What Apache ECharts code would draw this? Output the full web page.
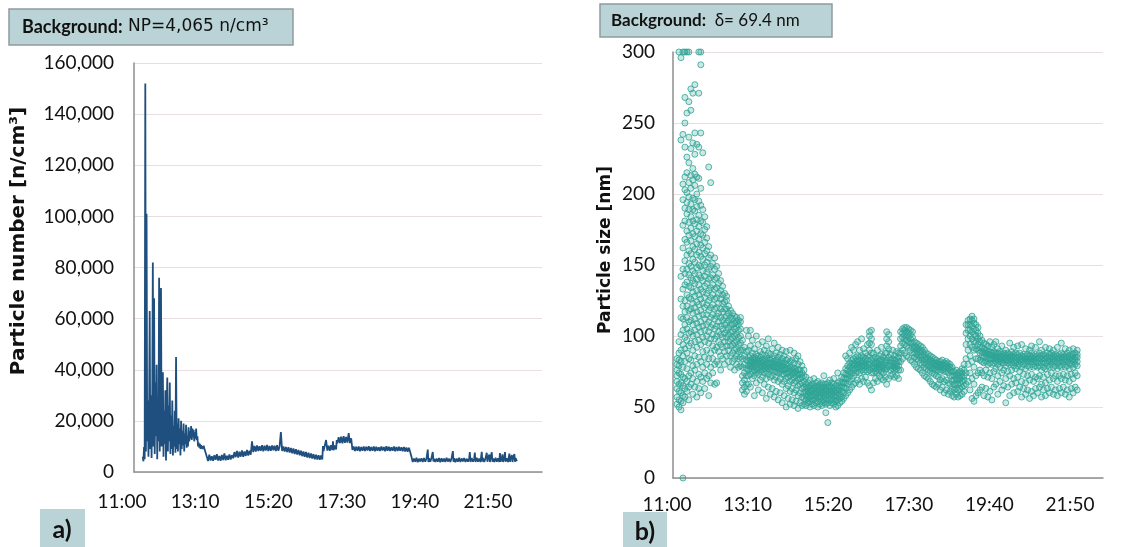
<!DOCTYPE html>
<html>
<head>
<meta charset="utf-8">
<script src="https://cdn.jsdelivr.net/npm/echarts@6/dist/echarts.min.js"></script>
<style>
  html, body { margin: 0; padding: 0; background: #fff; }
  #chart { width: 1138px; height: 547px; }
</style>
</head>
<body>
<div id="chart"></div>
<script>
// time is in minutes after midnight
var timeTicks = [660, 790, 920, 1050, 1180, 1310];
var numberTicks = [0, 20000, 40000, 60000, 80000, 100000, 120000, 140000, 160000];
var sizeTicks = [0, 50, 100, 150, 200, 250, 300];

// a) particle number [n/cm3] : [time, value]
var particleNumber = [
  [674, 6000], [675, 4200], [676, 9800], [677, 5000], [678, 152000], [679, 8000], [680, 101000],
  [681, 12000], [682, 28000], [683, 6000], [684, 22000], [685, 63000], [686, 9000], [687, 30000],
  [688, 5500], [689, 25000], [690, 82000], [691, 10000], [692, 68000], [693, 7000], [694, 35000],
  [695, 14000], [696, 42000], [697, 5000], [698, 26000], [699, 12000], [700, 76000], [701, 8000],
  [702, 31000], [703, 72000], [704, 10000], [705, 28000], [706, 39000], [707, 6000], [708, 24000],
  [709, 11000], [710, 32000], [711, 4500], [712, 21000], [713, 37000], [714, 8000], [715, 26000],
  [716, 12000], [717, 35000], [718, 7000], [719, 22000], [720, 9000], [721, 28000], [722, 6500],
  [723, 18000], [724, 10000], [725, 24000], [726, 7500], [727, 45000], [728, 9000], [729, 19000],
  [730, 8000], [731, 21000], [732, 11000], [733, 17000], [734, 6500], [735, 20000], [736, 9000],
  [737, 16000], [738, 10500], [739, 19000], [740, 8000], [741, 15000], [742, 11000], [743, 18500],
  [744, 9500], [745, 14000], [746, 10000], [747, 17500], [748, 12000], [749, 16000], [750, 13000],
  [751, 18000], [752, 12500], [753, 17000], [754, 13500], [755, 16500], [756, 12000], [757, 15500],
  [758, 13000], [759, 17000], [760, 12500], [761, 14000], [762, 10000], [763, 11500], [764, 9500],
  [765, 11000], [766, 9000], [767, 10500], [768, 9200], [769, 10000], [770, 9000], [771, 10300],
  [772, 9300], [773, 9800], [774, 9400], [775, 9600],
  [776, 6000], [778, 4300], [780, 6800], [782, 4500], [784, 6200], [786, 4400], [788, 6600],
  [790, 4800], [792, 7000], [794, 4500], [796, 6300], [798, 4400], [800, 6700], [802, 4700],
  [804, 7300], [806, 4600], [808, 6400], [810, 4800], [812, 6900], [814, 4900], [816, 6600],
  [818, 5400], [820, 7800], [822, 5800], [824, 8200], [826, 5600], [828, 7900], [830, 6000],
  [832, 8400], [834, 5900], [836, 8000], [838, 6300], [840, 8600], [842, 6400], [844, 8300],
  [846, 6800], [848, 12000], [850, 7800], [852, 10200], [854, 8000], [856, 10400], [858, 8200],
  [860, 10100], [862, 8300], [864, 10500], [866, 8100], [868, 10300], [870, 8400], [872, 10600],
  [874, 8200], [876, 10200], [878, 8300], [880, 10400], [882, 8500], [884, 10300], [886, 8200],
  [888, 10500], [890, 8300], [892, 10100], [894, 15600], [896, 8200], [898, 10000], [900, 8000],
  [902, 9800], [904, 7800], [906, 9700], [908, 7600], [910, 9400], [912, 7300], [914, 9200],
  [916, 7000], [918, 8900], [920, 6800], [922, 8600], [924, 6500], [926, 8300], [928, 6200],
  [930, 8000], [932, 6000], [934, 7800], [936, 5700], [938, 7500], [940, 5500], [942, 7200],
  [944, 5300], [946, 7000], [948, 5000], [950, 6800], [952, 4900], [954, 6600], [956, 4800],
  [958, 6500], [960, 4900], [961, 10200], [962, 8200], [964, 10400], [966, 12500], [968, 8400],
  [970, 10300], [972, 8300], [974, 10500], [976, 8600], [977, 12000], [978, 8500], [980, 10400],
  [982, 8800], [983, 12500], [984, 11200], [986, 13600], [988, 11300], [990, 13800], [992, 11200],
  [994, 14000], [996, 11400], [998, 13700], [1000, 11500], [1002, 15200], [1004, 11300], [1006, 13200],
  [1008, 8600], [1010, 10000], [1012, 8200], [1014, 9900], [1016, 8300], [1018, 10000], [1020, 8100],
  [1022, 9800], [1024, 8300], [1026, 10000], [1028, 8200], [1030, 9900], [1032, 8400], [1034, 10100],
  [1036, 8200], [1038, 9800], [1040, 8300], [1042, 10000], [1044, 8100], [1046, 9900], [1048, 8300],
  [1050, 9700], [1052, 8200], [1054, 10000], [1056, 8400], [1058, 9800], [1060, 8100], [1062, 10100],
  [1064, 8300], [1066, 9900], [1068, 8200], [1070, 9700], [1072, 8300], [1074, 10000], [1076, 8100],
  [1078, 9800], [1080, 8200], [1082, 9900], [1084, 8300], [1086, 9700], [1088, 8100], [1090, 9800],
  [1092, 8000], [1094, 9600], [1096, 7900], [1098, 9500], [1100, 7800], [1102, 6000],
  [1104, 3900], [1106, 5300], [1108, 4000], [1110, 5600], [1112, 3800], [1114, 5200], [1116, 4100],
  [1118, 5400], [1120, 3900], [1122, 5500], [1124, 4000], [1126, 5300], [1128, 8800], [1129, 3900],
  [1130, 5400], [1132, 4000], [1134, 5600], [1136, 7800], [1137, 4100], [1138, 5200], [1140, 3900],
  [1142, 5300], [1144, 4000], [1146, 5500], [1148, 3800], [1150, 5400], [1152, 4000], [1154, 5300],
  [1156, 3900], [1158, 5600], [1160, 4100], [1162, 5200], [1164, 3900], [1166, 5500], [1168, 8200],
  [1169, 4000], [1170, 5400], [1172, 3800], [1174, 5300], [1176, 4000], [1178, 5600], [1180, 3900],
  [1182, 5300], [1184, 4100], [1186, 5500], [1188, 3900], [1190, 5200], [1192, 4000], [1194, 5400],
  [1195, 7800], [1196, 3900], [1198, 5500], [1200, 4000], [1202, 5300], [1203, 7600], [1204, 3900],
  [1206, 5600], [1208, 4000], [1210, 5300], [1212, 3900], [1214, 7900], [1215, 4100], [1216, 5500],
  [1218, 3900], [1220, 5400], [1222, 7500], [1223, 4000], [1224, 5300], [1226, 6800], [1227, 3900],
  [1228, 5500], [1230, 7700], [1231, 4000], [1232, 5300], [1234, 3900], [1236, 5600], [1238, 4000],
  [1240, 5400], [1242, 3900], [1243, 7400], [1244, 4000], [1246, 5300], [1247, 6900], [1248, 3900],
  [1250, 5500], [1251, 7800], [1252, 4000], [1254, 5400], [1256, 3900], [1258, 7200], [1259, 4000],
  [1260, 5300], [1262, 6600], [1263, 3900], [1264, 5500], [1266, 7000], [1267, 4000], [1268, 5400],
  [1270, 4200]
];

// b) particle size [nm] : [time, readings at that time]
var particleSize = [
  [666, [52, 57, 63, 68, 72, 76, 80, 84]],
  [669, [50, 55, 61, 66, 74, 79, 83, 88, 96, 300]],
  [672, [48, 54, 60, 67, 73, 82, 90, 101, 113, 126, 142, 238, 296]],
  [675, [0, 53, 58, 65, 71, 78, 86, 94, 104, 112, 121, 133, 147, 162, 178, 196, 207, 242, 300]],
  [678, [57, 63, 70, 82, 91, 99, 108, 117, 125, 136, 144, 153, 168, 181, 190, 203, 212, 233, 250, 268, 300]],
  [681, [61, 68, 77, 88, 97, 105, 113, 121, 129, 138, 147, 157, 166, 174, 186, 194, 201, 215, 226, 257, 300]],
  [684, [55, 64, 72, 84, 93, 102, 110, 118, 127, 135, 143, 151, 160, 171, 180, 189, 198, 208, 222, 240, 265, 300]],
  [687, [66, 74, 83, 95, 103, 111, 119, 126, 134, 141, 149, 158, 167, 176, 184, 193, 204, 213, 232, 259, 274]],
  [690, [59, 70, 79, 90, 100, 108, 116, 123, 131, 139, 146, 154, 163, 172, 181, 189, 197, 210, 218, 236, 271]],
  [693, [64, 76, 86, 96, 104, 112, 120, 128, 137, 144, 152, 161, 170, 179, 188, 196, 206, 214, 228, 243, 277]],
  [696, [57, 68, 80, 92, 101, 109, 117, 124, 132, 140, 148, 157, 165, 174, 182, 191, 200, 212, 235]],
  [699, [63, 73, 85, 97, 106, 114, 122, 129, 136, 143, 150, 159, 168, 177, 185, 195, 211, 233, 271, 300]],
  [702, [60, 71, 82, 94, 103, 110, 118, 126, 133, 141, 149, 156, 164, 172, 181, 192, 204, 243, 291, 300]],
  [705, [68, 78, 89, 99, 107, 115, 123, 131, 139, 146, 154, 162, 171, 180, 189, 229]],
  [708, [63, 74, 85, 96, 104, 112, 120, 127, 135, 142, 150, 158, 166, 175, 184]],
  [711, [70, 80, 90, 100, 108, 115, 122, 130, 137, 145, 152, 160, 169, 177]],
  [714, [58, 72, 84, 95, 103, 110, 118, 125, 132, 140, 147, 155, 163, 219]],
  [717, [67, 78, 88, 98, 106, 113, 120, 127, 134, 141, 149, 157, 208]],
  [720, [74, 84, 93, 101, 108, 115, 122, 129, 136, 143, 151]],
  [723, [66, 80, 90, 98, 105, 112, 119, 126, 133, 140, 147, 155]],
  [726, [67, 82, 92, 100, 107, 114, 120, 127, 134, 141, 149]],
  [729, [80, 89, 96, 103, 110, 116, 123, 130, 137, 144]],
  [732, [76, 86, 94, 101, 107, 113, 119, 126, 132, 139]],
  [735, [84, 92, 99, 105, 111, 117, 123, 129, 135]],
  [738, [80, 89, 96, 102, 108, 113, 119, 124, 130]],
  [741, [86, 93, 99, 104, 109, 114, 119, 125, 128]],
  [744, [82, 90, 96, 101, 106, 111, 116, 121]],
  [747, [78, 86, 93, 98, 103, 108, 113, 118]],
  [750, [82, 88, 94, 99, 103, 108, 112, 116]],
  [753, [76, 84, 90, 95, 100, 105, 109, 114]],
  [756, [80, 86, 91, 96, 101, 106, 110, 113]],
  [759, [78, 84, 89, 94, 99, 104, 108, 111]],
  [762, [79, 85, 90, 95, 100, 105, 110, 113]],
  [765, [62, 67, 72, 78, 84, 90, 97]],
  [768, [59, 64, 69, 74, 80, 86, 92]],
  [771, [61, 66, 72, 77, 83, 89, 104]],
  [774, [66, 72, 76, 79, 82, 85, 90, 100]],
  [777, [64, 73, 77, 79, 81, 83, 86, 93, 104]],
  [780, [70, 75, 78, 80, 82, 84, 88, 97]],
  [783, [58, 72, 76, 79, 81, 83, 85, 91]],
  [786, [67, 74, 77, 80, 82, 84, 87, 100]],
  [789, [62, 73, 76, 78, 81, 83, 86, 94]],
  [792, [69, 75, 78, 80, 82, 85, 89]],
  [795, [60, 71, 76, 79, 81, 83, 87, 96]],
  [798, [66, 74, 77, 79, 82, 84, 90]],
  [801, [56, 70, 75, 78, 80, 83, 86, 93]],
  [804, [64, 73, 77, 79, 81, 84, 88, 98]],
  [807, [59, 71, 76, 78, 81, 83, 87]],
  [810, [63, 72, 76, 79, 81, 84, 91]],
  [813, [57, 69, 75, 78, 80, 82, 86, 95]],
  [816, [61, 71, 75, 78, 80, 83, 88]],
  [819, [55, 68, 74, 77, 80, 82, 85, 92]],
  [822, [60, 70, 75, 77, 79, 82, 87]],
  [825, [53, 66, 73, 76, 79, 81, 84, 90]],
  [828, [58, 68, 73, 76, 78, 81, 86]],
  [831, [50, 63, 70, 74, 77, 80, 83, 89]],
  [834, [56, 65, 71, 74, 77, 79, 84]],
  [837, [52, 61, 68, 72, 75, 78, 82, 90]],
  [840, [55, 63, 69, 73, 76, 78, 83]],
  [843, [51, 60, 67, 71, 74, 77, 81, 88]],
  [846, [54, 62, 68, 72, 75, 77, 84]],
  [849, [49, 58, 65, 70, 73, 76, 80, 86]],
  [852, [53, 60, 66, 70, 73, 76, 82]],
  [855, [51, 57, 63, 67, 71, 74, 79]],
  [858, [52, 56, 60, 64, 68, 72, 76]],
  [861, [51, 55, 58, 61, 63, 66, 71]],
  [864, [53, 56, 59, 61, 64, 67]],
  [867, [50, 54, 57, 60, 62, 65, 69]],
  [870, [52, 55, 58, 61, 63, 66]],
  [873, [51, 55, 58, 60, 63, 65, 70]],
  [876, [53, 56, 59, 61, 64, 67]],
  [879, [50, 54, 57, 60, 62, 65, 68]],
  [882, [52, 56, 58, 61, 63, 66]],
  [885, [51, 54, 57, 60, 62, 64, 67]],
  [888, [53, 56, 59, 61, 64, 66, 72]],
  [891, [46, 52, 55, 58, 61, 63, 66]],
  [894, [39, 53, 56, 59, 61, 64, 67]],
  [897, [51, 55, 58, 60, 62, 65, 69]],
  [900, [53, 56, 59, 61, 64, 67]],
  [903, [52, 55, 58, 61, 63, 66, 70]],
  [906, [50, 54, 57, 60, 62, 65]],
  [909, [51, 55, 58, 61, 63, 67, 74]],
  [912, [53, 56, 59, 62, 65, 68]],
  [915, [54, 57, 61, 64, 67, 71]],
  [918, [56, 60, 64, 67, 70, 74]],
  [921, [58, 63, 67, 70, 73, 77, 86]],
  [924, [60, 66, 70, 73, 76, 79, 84]],
  [927, [62, 68, 72, 75, 78, 81, 88]],
  [930, [64, 70, 74, 77, 80, 83, 92]],
  [933, [66, 72, 76, 79, 81, 84, 90]],
  [936, [67, 74, 77, 80, 82, 85, 94]],
  [939, [69, 75, 78, 80, 83, 86, 96]],
  [942, [66, 74, 78, 80, 82, 85, 90]],
  [945, [70, 76, 79, 81, 83, 86, 98]],
  [948, [68, 75, 78, 80, 82, 85, 91]],
  [951, [71, 76, 79, 81, 84, 88]],
  [954, [67, 75, 78, 80, 83, 86, 94]],
  [957, [65, 76, 80, 85, 90, 95, 100, 103]],
  [960, [62, 74, 78, 83, 88, 94, 98, 104]],
  [963, [67, 74, 77, 79, 81, 84, 88]],
  [966, [70, 75, 78, 80, 82, 85]],
  [969, [68, 74, 77, 79, 81, 84, 90]],
  [972, [72, 76, 78, 80, 82, 86]],
  [975, [70, 75, 78, 80, 83, 87, 92]],
  [978, [69, 74, 77, 79, 82, 85]],
  [981, [71, 76, 78, 81, 83, 88]],
  [983, [66, 77, 83, 88, 93, 98, 103]],
  [986, [70, 79, 85, 91, 96, 101]],
  [989, [72, 76, 79, 81, 83, 87]],
  [992, [73, 77, 79, 81, 84, 90]],
  [995, [71, 76, 78, 80, 83, 86]],
  [998, [72, 77, 79, 81, 84, 89]],
  [1001, [70, 76, 79, 82, 85, 88]],
  [1004, [76, 82, 88, 93, 98, 103]],
  [1007, [84, 90, 95, 99, 102, 105]],
  [1010, [88, 94, 98, 101, 104, 106]],
  [1013, [86, 93, 97, 100, 103, 106]],
  [1016, [85, 92, 96, 99, 102, 105]],
  [1019, [83, 90, 95, 98, 101, 104]],
  [1022, [82, 88, 92, 95, 99, 103]],
  [1025, [80, 85, 88, 91, 93, 96]],
  [1028, [78, 84, 87, 90, 92, 95]],
  [1031, [77, 83, 86, 89, 91, 94]],
  [1034, [76, 81, 85, 88, 90, 93]],
  [1037, [74, 80, 83, 86, 89, 92]],
  [1040, [72, 78, 81, 84, 87, 90]],
  [1043, [71, 77, 80, 83, 85, 88]],
  [1046, [70, 76, 79, 82, 84, 87]],
  [1049, [68, 75, 78, 81, 83, 86]],
  [1052, [66, 74, 77, 80, 82, 85]],
  [1055, [65, 73, 77, 79, 81, 84]],
  [1058, [64, 72, 76, 79, 81, 83]],
  [1061, [66, 71, 76, 78, 80, 82]],
  [1064, [62, 69, 75, 78, 80, 82]],
  [1067, [64, 70, 76, 78, 80, 83]],
  [1070, [60, 68, 75, 77, 79, 81]],
  [1073, [62, 69, 75, 78, 80, 82]],
  [1076, [59, 67, 74, 77, 79, 81]],
  [1079, [61, 66, 72, 76, 78, 80]],
  [1082, [58, 63, 68, 72, 75, 78]],
  [1085, [57, 62, 66, 69, 72, 75]],
  [1088, [59, 63, 67, 70, 73, 76]],
  [1091, [57, 62, 66, 69, 72, 74]],
  [1094, [58, 63, 67, 70, 72, 75]],
  [1097, [59, 64, 68, 71, 74, 77]],
  [1100, [61, 65, 69, 72, 76, 80]],
  [1103, [66, 74, 84, 94, 102, 108]],
  [1106, [68, 80, 90, 98, 104, 108, 111]],
  [1109, [62, 74, 86, 94, 100, 104, 108, 112]],
  [1112, [56, 70, 82, 92, 98, 103, 107, 111, 114]],
  [1115, [54, 66, 78, 90, 96, 101, 105, 109, 112]],
  [1118, [58, 72, 84, 91, 96, 100, 104, 108]],
  [1121, [60, 74, 84, 90, 94, 98, 102, 106]],
  [1124, [62, 76, 83, 88, 92, 96, 100]],
  [1127, [64, 74, 82, 86, 89, 92, 97]],
  [1130, [58, 72, 81, 85, 88, 91, 95]],
  [1133, [63, 76, 82, 85, 88, 90, 94]],
  [1136, [57, 71, 80, 84, 87, 89, 93]],
  [1139, [61, 74, 81, 84, 87, 89, 96]],
  [1142, [55, 70, 80, 84, 86, 88, 92]],
  [1145, [64, 75, 81, 84, 86, 89, 94]],
  [1148, [66, 77, 82, 84, 86, 88, 96]],
  [1151, [59, 72, 80, 83, 85, 88, 91]],
  [1154, [68, 78, 82, 84, 86, 89]],
  [1157, [62, 74, 81, 83, 85, 87, 93]],
  [1160, [65, 76, 81, 84, 86, 88]],
  [1163, [53, 70, 79, 83, 85, 87, 90]],
  [1166, [64, 75, 81, 83, 85, 88]],
  [1169, [58, 72, 80, 83, 85, 87, 95]],
  [1172, [66, 76, 81, 84, 86, 89]],
  [1175, [60, 70, 79, 82, 85, 87, 92]],
  [1178, [67, 77, 81, 83, 85, 88]],
  [1181, [61, 71, 79, 82, 84, 87, 93]],
  [1184, [64, 75, 80, 83, 85, 88]],
  [1187, [57, 68, 78, 82, 84, 86, 94]],
  [1190, [63, 73, 80, 83, 85, 87]],
  [1193, [59, 67, 77, 82, 84, 86, 91]],
  [1196, [62, 72, 79, 82, 84, 87]],
  [1199, [56, 69, 78, 82, 84, 86, 90]],
  [1202, [61, 73, 80, 83, 85, 88, 93]],
  [1205, [58, 68, 78, 82, 84, 86]],
  [1208, [63, 71, 79, 82, 84, 87, 92]],
  [1211, [60, 70, 78, 81, 84, 86]],
  [1214, [64, 72, 79, 82, 85, 88, 96]],
  [1217, [57, 66, 76, 81, 84, 86, 90]],
  [1220, [62, 71, 78, 82, 84, 87]],
  [1223, [58, 67, 77, 81, 84, 86, 92]],
  [1226, [63, 73, 79, 82, 85, 88]],
  [1229, [60, 69, 78, 82, 84, 87, 91]],
  [1232, [64, 74, 80, 83, 85, 88]],
  [1235, [59, 70, 78, 82, 84, 86, 90]],
  [1238, [62, 72, 79, 82, 85, 87]],
  [1241, [58, 68, 77, 81, 84, 86, 92]],
  [1244, [63, 72, 79, 82, 84, 87]],
  [1247, [60, 70, 78, 82, 85, 88, 95]],
  [1250, [64, 73, 80, 83, 85, 87]],
  [1253, [59, 69, 78, 82, 84, 86, 91]],
  [1256, [62, 72, 79, 82, 85, 88]],
  [1259, [57, 68, 77, 81, 84, 86, 90]],
  [1262, [63, 73, 80, 83, 85, 87]],
  [1265, [60, 70, 78, 82, 84, 87, 91]],
  [1268, [64, 74, 80, 83, 85, 88]],
  [1271, [62, 72, 79, 82, 85, 87, 90]]
];

var FONT = 'Lato, "Liberation Sans", sans-serif';
var WIDE_FONT = '"DejaVu Sans", sans-serif';
var AXIS_GREY = '#8e8e8e';
var GRID_LINE = '#e7dfdf';
var BOX_FILL = '#bad3d6';

function fmtTime(m) {
  var h = Math.floor(m / 60), mm = m % 60;
  return h + ':' + (mm < 10 ? '0' : '') + mm;
}

var sizePoints = [];
particleSize.forEach(function (row) {
  row[1].forEach(function (v) { sizePoints.push([row[0], v]); });
});

var chart = echarts.init(document.getElementById('chart'));

function dataXAxis(gridIndex) {
  return {
    gridIndex: gridIndex, type: 'value', min: timeTicks[0], max: timeTicks[timeTicks.length - 1],
    interval: 130,
    axisLine: { show: true, onZero: false, lineStyle: { color: AXIS_GREY, width: 1.5 } },
    axisTick: { show: false }, axisLabel: { show: false }, splitLine: { show: false }
  };
}
// the printed time labels do not sit under the plot's own ticks, so they get their own axis
function labelXAxis(gridIndex) {
  return {
    gridIndex: gridIndex, type: 'value', min: timeTicks[0], max: timeTicks[timeTicks.length - 1],
    interval: 130,
    axisLine: { show: false }, axisTick: { show: false }, splitLine: { show: false },
    axisLabel: { show: true, margin: 2, fontFamily: FONT, fontSize: 19, color: '#111',
      formatter: function (v) { return fmtTime(v); } }
  };
}
function hiddenYAxis(gridIndex) {
  return { gridIndex: gridIndex, type: 'value', show: false, min: 0, max: 1 };
}

var option = {
  backgroundColor: '#fff',
  animation: false,
  grid: [
    { left: 134, top: 63, width: 408, height: 409, outerBoundsMode: 'none' },
    { left: 673, top: 52, width: 430, height: 426, outerBoundsMode: 'none' },
    { left: 122, top: 480, width: 366, height: 10, outerBoundsMode: 'none' },
    { left: 667, top: 483, width: 403, height: 10, outerBoundsMode: 'none' }
  ],
  xAxis: [dataXAxis(0), dataXAxis(1), labelXAxis(2), labelXAxis(3)],
  yAxis: [
    {
      gridIndex: 0, type: 'value', min: numberTicks[0], max: numberTicks[numberTicks.length - 1],
      interval: 20000,
      axisLine: { show: true, lineStyle: { color: AXIS_GREY, width: 1.5 } },
      axisTick: { show: false },
      splitLine: { show: true, lineStyle: { color: GRID_LINE, width: 1.2 } },
      axisLabel: { margin: 20, fontFamily: FONT, fontSize: 19, color: '#111',
        formatter: function (v) { return v.toLocaleString('en-US'); } }
    },
    {
      gridIndex: 1, type: 'value', min: sizeTicks[0], max: sizeTicks[sizeTicks.length - 1],
      interval: 50,
      axisLine: { show: true, lineStyle: { color: AXIS_GREY, width: 1.5 } },
      axisTick: { show: false },
      splitLine: { show: true, lineStyle: { color: GRID_LINE, width: 1.2 } },
      axisLabel: { margin: 18, fontFamily: FONT, fontSize: 19, color: '#111' }
    },
    hiddenYAxis(2),
    hiddenYAxis(3)
  ],
  series: [
    {
      type: 'line', xAxisIndex: 0, yAxisIndex: 0, data: particleNumber,
      showSymbol: false, symbol: 'none', sampling: null,
      lineStyle: { color: '#1f4f7e', width: 1.8 }
    },
    {
      type: 'scatter', xAxisIndex: 1, yAxisIndex: 1, data: sizePoints,
      symbol: 'circle', symbolSize: 6,
      itemStyle: { color: 'rgba(40,160,146,0.3)', borderColor: '#30a597', borderWidth: 1 }
    }
  ],
  graphic: [
    { type: 'rect', shape: { x: 9, y: 9, width: 284, height: 36 },
      style: { fill: BOX_FILL, stroke: '#8f9c9e', lineWidth: 1.5 } },
    { type: 'text', x: 22, y: 27,
      style: { text: '{b|Background:} NP=4,065 n/cm³', fontFamily: WIDE_FONT, fontSize: 17, fill: '#111',
        verticalAlign: 'middle', rich: { b: { fontFamily: FONT, fontSize: 18, fontWeight: 'bold', fill: '#111' } } } },
    { type: 'rect', shape: { x: 600, y: 4, width: 232, height: 33 },
      style: { fill: BOX_FILL, stroke: '#8f9c9e', lineWidth: 1.5 } },
    { type: 'text', x: 611, y: 21,
      style: { text: '{b|Background:}  δ= 69.4 nm', fontFamily: FONT, fontSize: 17, fill: '#111',
        verticalAlign: 'middle', rich: { b: { fontFamily: FONT, fontSize: 17, fontWeight: 'bold', fill: '#111' } } } },
    { type: 'text', x: 19, y: 241, rotation: Math.PI / 2,
      style: { text: 'Particle number [n/cm³]', fontFamily: WIDE_FONT, fontSize: 20, fontWeight: 'bold',
        fill: '#111', align: 'center', verticalAlign: 'middle' } },
    { type: 'text', x: 606, y: 250, rotation: Math.PI / 2,
      style: { text: 'Particle size [nm]', fontFamily: WIDE_FONT, fontSize: 17, fontWeight: 'bold',
        fill: '#111', align: 'center', verticalAlign: 'middle' } },
    { type: 'rect', shape: { x: 40, y: 509, width: 45, height: 38 }, style: { fill: BOX_FILL } },
    { type: 'text', x: 62, y: 530,
      style: { text: 'a)', fontFamily: FONT, fontSize: 25, fontWeight: 'bold', fill: '#111',
        align: 'center', verticalAlign: 'middle' } },
    { type: 'rect', shape: { x: 623, y: 512, width: 44, height: 35 }, style: { fill: BOX_FILL } },
    { type: 'text', x: 645, y: 532,
      style: { text: 'b)', fontFamily: FONT, fontSize: 25, fontWeight: 'bold', fill: '#111',
        align: 'center', verticalAlign: 'middle' } }
  ]
};

chart.setOption(option);
</script>
</body>
</html>
